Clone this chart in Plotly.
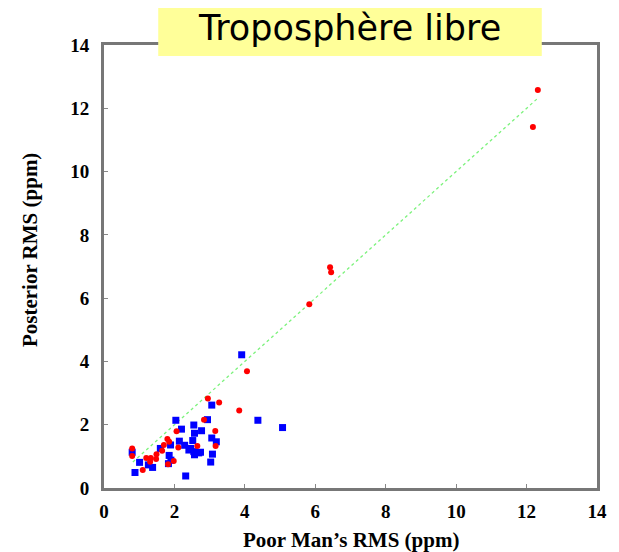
import plotly.graph_objects as go

# Red series (circles)
red_x = [12.32, 12.18, 6.42, 6.45, 5.83, 4.06, 2.95, 3.27, 3.84, 2.84, 3.16, 3.17,
         2.06, 2.11, 2.65, 1.80, 1.85, 1.70, 1.65, 1.49, 1.48, 1.33, 1.20, 1.31,
         1.98, 1.82, 1.10, 0.80, 0.80]
red_y = [12.58, 11.41, 6.98, 6.82, 5.81, 3.69, 2.83, 2.70, 2.45, 2.16, 1.80, 1.33,
         1.79, 1.28, 1.33, 1.55, 1.46, 1.36, 1.18, 1.07, 0.92, 0.95, 0.95, 0.83,
         0.85, 0.75, 0.57, 1.25, 1.01]

# Blue series (squares)
blue_x = [3.91, 3.06, 4.37, 5.07, 2.04, 2.94, 2.55, 2.20, 2.57, 2.77, 2.14, 2.29,
          2.52, 3.06, 3.19, 2.41, 2.55, 2.69, 2.57, 2.74, 3.08, 3.03, 2.32, 1.89,
          1.60, 1.85, 1.90, 1.83, 1.26, 1.38, 1.01, 0.88, 0.80, 2.46]
blue_y = [4.21, 2.62, 2.14, 1.91, 2.14, 2.16, 1.99, 1.86, 1.73, 1.81, 1.48, 1.35,
          1.50, 1.58, 1.46, 1.20, 1.15, 1.11, 1.05, 1.13, 1.07, 0.82, 0.38, 1.36,
          1.25, 1.03, 0.88, 0.77, 0.73, 0.65, 0.81, 0.49, 1.13, 1.25]

# 1:1 reference line
line_x = [0.82, 12.31]
line_y = [0.82, 12.31]

x_ticks = [0, 2, 4, 6, 8, 10, 12, 14]
y_ticks = [0, 2, 4, 6, 8, 10, 12, 14]

title_text = "Troposphère libre"
x_title = "Poor Man’s RMS (ppm)"
y_title = "Posterior RMS (ppm)"

# page body has an 8px default margin: figure drawn at offset (8, 8)
OFF = 8
W, H = 619 - OFF, 552 - OFF
L, T = 104 - OFF, 45 - OFF
R = W - (604 - OFF)
B = H - (488 - OFF)
PW, PH = W - L - R, H - T - B

def px_x(px):
    return (px - OFF - L) / PW

def px_y(py):
    return (H - B - (py - OFF)) / PH

fig = go.Figure()
fig.add_trace(go.Scatter(x=line_x, y=line_y, mode="lines",
                         line=dict(color="#7CF27C", width=1.3, dash="dot"),
                         hoverinfo="skip", showlegend=False))
fig.add_trace(go.Scatter(x=blue_x, y=blue_y, mode="markers",
                         marker=dict(symbol="square", size=7, color="#0000FF",
                                     line=dict(width=0)),
                         showlegend=False))
fig.add_trace(go.Scatter(x=red_x, y=red_y, mode="markers",
                         marker=dict(symbol="circle", size=6, color="#FF0000",
                                     line=dict(width=0)),
                         showlegend=False))

tickfont = dict(family="Liberation Serif", size=19, color="black")
axis_common = dict(
    range=[0, 14], tickmode="array", ticks="inside", ticklen=4, tickwidth=1,
    tickcolor="#888888", showline=True, linecolor="#777777", linewidth=3,
    mirror=True, showgrid=False, zeroline=False, tickfont=tickfont,
)

fig.update_layout(
    width=W, height=H,
    margin=dict(l=L, r=R, t=T, b=B),
    paper_bgcolor="white", plot_bgcolor="white",
    xaxis=dict(**axis_common, tickvals=x_ticks,
               ticktext=[f"<b>{v}</b>" for v in x_ticks], ticklabelstandoff=4),
    yaxis=dict(**axis_common, tickvals=y_ticks,
               ticktext=[f"<b>{v}</b>" for v in y_ticks], ticklabelstandoff=8),
    showlegend=False,
)

fig.add_shape(type="rect", xref="paper", yref="paper",
              x0=px_x(159), x1=px_x(548), y0=px_y(56), y1=px_y(0),
              fillcolor="#FFFF99", line=dict(width=0), layer="above")
fig.add_annotation(text=title_text, xref="paper", yref="paper",
                   x=px_x(353), y=px_y(28), xanchor="center", yanchor="middle",
                   showarrow=False,
                   font=dict(family="DejaVu Sans", size=35, color="black"))
fig.add_annotation(text=f"<b>{x_title}</b>", xref="paper", yref="paper",
                   x=px_x(354), y=px_y(540), xanchor="center", yanchor="middle",
                   showarrow=False,
                   font=dict(family="Liberation Serif", size=21, color="black"))
fig.add_annotation(text=f"<b>{y_title}</b>", xref="paper", yref="paper",
                   x=px_x(29), y=px_y(250), xanchor="center", yanchor="middle",
                   textangle=-90, showarrow=False,
                   font=dict(family="Liberation Serif", size=21, color="black"))

fig.write_html("out.html")
